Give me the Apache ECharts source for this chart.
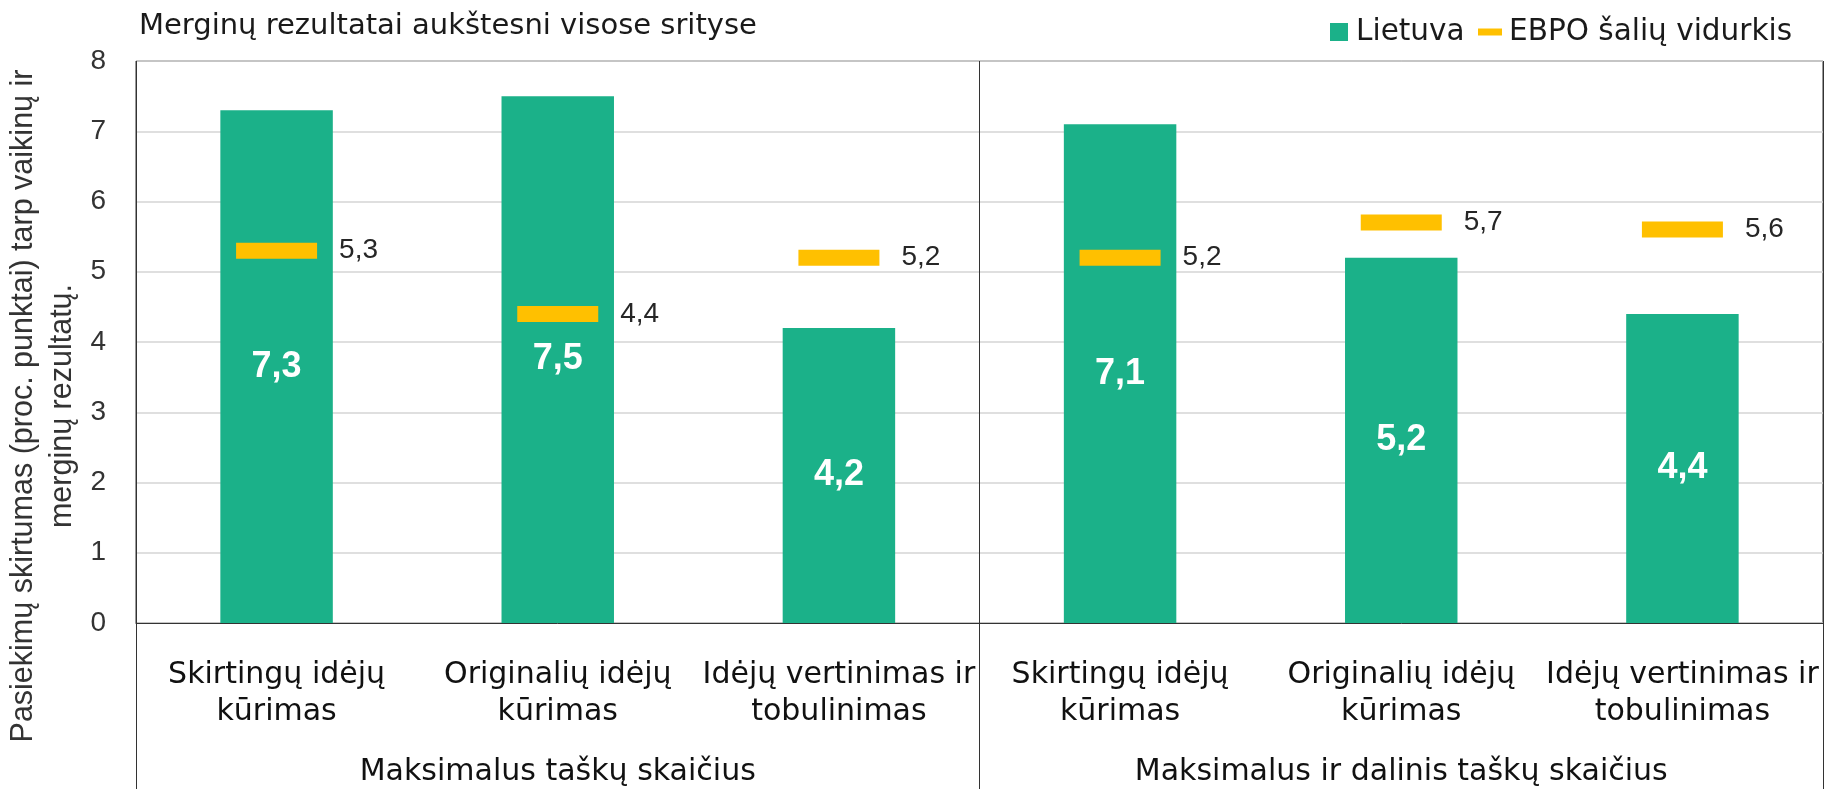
<!DOCTYPE html>
<html>
<head>
<meta charset="utf-8">
<script src="https://cdn.jsdelivr.net/npm/echarts@6/dist/echarts.min.js"></script>
<style>
  html, body { margin: 0; padding: 0; background: #ffffff; }
  #chart { width: 1826px; height: 789px; }
</style>
</head>
<body>
<div id="chart"></div>
<script>
const categories = [
  'Skirtingų idėjų\nkūrimas',
  'Originalių idėjų\nkūrimas',
  'Idėjų vertinimas ir\ntobulinimas',
  'Skirtingų idėjų\nkūrimas',
  'Originalių idėjų\nkūrimas',
  'Idėjų vertinimas ir\ntobulinimas'
];
const groups = ['Maksimalus taškų skaičius', 'Maksimalus ir dalinis taškų skaičius'];
const lietuva = [7.3, 7.5, 4.2, 7.1, 5.2, 4.4];
const ebpo = [5.3, 4.4, 5.2, 5.2, 5.7, 5.6];
const yMin = 0, yMax = 8, yStep = 1;
const chartTitle = 'Merginų rezultatai aukštesni visose srityse';
const yTitleLines = ['Pasiekimų skirtumas (proc. punktai) tarp vaikinų ir', 'merginų rezultatų.'];
const seriesNames = ['Lietuva', 'EBPO šalių vidurkis'];

const fmt = v => String(v).replace('.', ',');
const WIDE = '"DejaVu Sans", sans-serif';
const ARIAL = '"Liberation Sans", Arial, sans-serif';
const GREEN = '#1BB189';
const GOLD = '#FFC000';
const LINE = '#333333';

const chart = echarts.init(document.getElementById('chart'), null, { renderer: 'canvas' });
chart.setOption({
  animation: false,
  backgroundColor: '#ffffff',
  title: {
    text: chartTitle,
    left: 139, top: 12, padding: 0,
    textStyle: { fontFamily: WIDE, fontSize: 29, fontWeight: 'normal', color: '#1a1a1a' }
  },
  legend: [
    {
      data: [{ name: seriesNames[0], icon: 'rect' }],
      left: 1330, top: 17, padding: 0,
      itemWidth: 18, itemHeight: 18,
      textStyle: { fontFamily: WIDE, fontSize: 29.5, color: '#1a1a1a', padding: [0, 0, 0, 3], lineHeight: 28 }
    },
    {
      data: [{ name: seriesNames[1], icon: 'rect' }],
      left: 1478, top: 17, padding: 0,
      itemWidth: 24, itemHeight: 7,
      textStyle: { fontFamily: WIDE, fontSize: 29.5, color: '#1a1a1a', padding: [0, 0, 0, 2], lineHeight: 28 }
    }
  ],
  grid: {
    left: 136, right: 3, top: 61, bottom: 166,
    containLabel: false, outerBoundsMode: 'none',
    show: true, borderColor: LINE, borderWidth: 1, backgroundColor: 'transparent'
  },
  xAxis: [
    {
      type: 'category', data: categories, position: 'bottom',
      axisLine: { show: true, lineStyle: { color: LINE, width: 1 } },
      axisTick: { show: false },
      splitLine: { show: false },
      axisLabel: {
        interval: 0, margin: 34,
        fontFamily: WIDE, fontSize: 30, lineHeight: 37, color: '#111111'
      }
    },
    {
      type: 'category', data: groups, position: 'bottom',
      axisLine: { show: false },
      axisTick: { show: true, length: 170, lineStyle: { color: LINE, width: 1 } },
      splitLine: { show: true, lineStyle: { color: LINE, width: 1 } },
      axisLabel: {
        interval: 0, margin: 131,
        fontFamily: WIDE, fontSize: 30, lineHeight: 37, color: '#111111'
      }
    }
  ],
  yAxis: {
    type: 'value', min: yMin, max: yMax, interval: yStep,
    axisLine: { show: false }, axisTick: { show: false },
    splitLine: { show: true, lineStyle: { color: '#d4d4d4', width: 1.5 } },
    axisLabel: { margin: 30, fontFamily: ARIAL, fontSize: 28, color: '#333333' }
  },
  graphic: [
    {
      type: 'text', x: 43, y: 406, rotation: Math.PI / 2,
      style: {
        text: yTitleLines.join('\n'),
        fontFamily: ARIAL, fontSize: 30.5, lineHeight: 39,
        fill: '#333333', align: 'center', verticalAlign: 'middle'
      }
    }
  ],
  series: [
    {
      name: seriesNames[0], type: 'bar', xAxisIndex: 0, data: lietuva,
      barWidth: '40%',
      itemStyle: { color: GREEN },
      label: {
        show: true, position: 'inside', formatter: p => fmt(p.value),
        fontFamily: ARIAL, fontSize: 36, fontWeight: 'bold', color: '#ffffff'
      },
      z: 2
    },
    {
      name: seriesNames[1], type: 'scatter', xAxisIndex: 0, data: ebpo,
      symbol: 'rect', symbolSize: [81, 16],
      itemStyle: { color: GOLD, opacity: 1 },
      label: {
        show: true, position: 'right', distance: 22, formatter: p => fmt(p.value),
        fontFamily: ARIAL, fontSize: 28, color: '#262626'
      },
      z: 3
    }
  ]
});
</script>
</body>
</html>
